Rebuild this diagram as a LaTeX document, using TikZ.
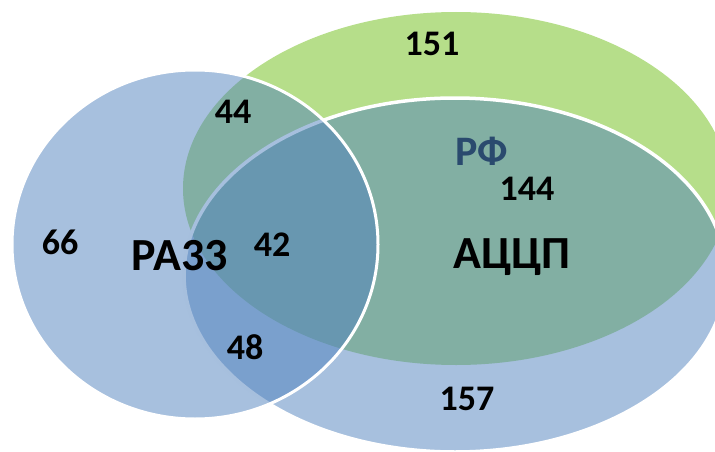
\documentclass[tikz,border=0pt]{standalone}
\usepackage{fontspec}
\setmainfont{Carlito}
\definecolor{greenF}{HTML}{B6DE8A}
\definecolor{blueF}{HTML}{4F81BD}
\definecolor{rfblue}{HTML}{2A4A6E}
\begin{document}
\begin{tikzpicture}[x=1pt,y=-1pt,
  num/.style={font=\fontsize{36}{36}\selectfont\bfseries, anchor=base, inner sep=0pt},
  big/.style={font=\fontsize{46}{46}\selectfont\bfseries, anchor=base, inner sep=0pt},
  setfill/.style={fill=blueF, fill opacity=0.5, draw=white}
  ]
\useasboundingbox (0,0) rectangle (715,452);
\begin{scope}
\clip (0,0) rectangle (715,452);
\fill[greenF] (456,188.5) ellipse [x radius=273, y radius=176.5];
\path[setfill, line width=3.5pt] (455,275) ellipse [x radius=271, y radius=177];
\path[setfill, line width=3pt] (195,244.5) ellipse [x radius=183, y radius=174.5];
\end{scope}
\node[num] (n151) at (432,56) {151};
\node[num] (n44) at (233,123) {44};
\node[num] (n144) at (527,200) {144};
\node[num] (n66) at (60,254) {66};
\node[num] (n42) at (272,256) {42};
\node[num] (n48) at (245,359) {48};
\node[num] (n157) at (467,410) {157};
\node[big] (ra) at (180,270) {РА33};
\node[big] (accp) at (512,268) {АЦЦП};
\node[font=\fontsize{42}{42}\selectfont\bfseries, anchor=base, inner sep=0pt, text=rfblue] (rf) at (482,165) {РФ};
\end{tikzpicture}
\end{document}
